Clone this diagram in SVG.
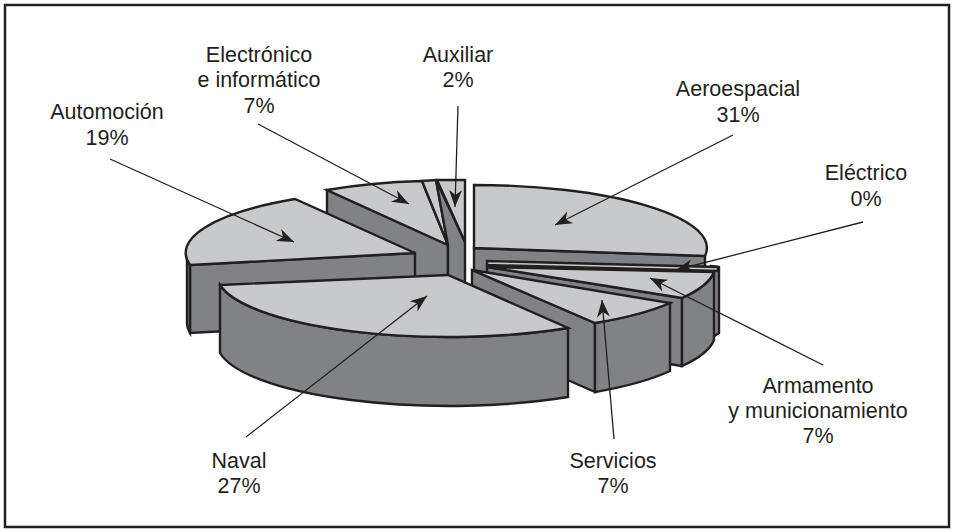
<svg xmlns="http://www.w3.org/2000/svg" width="954" height="532" viewBox="0 0 954 532">
<style>
.lt{fill:#c8c9cb;stroke:#231f20;stroke-width:2.4;stroke-linejoin:miter}
.dk{fill:#808285;stroke:#231f20;stroke-width:2.4;stroke-linejoin:miter}
.ln{fill:none;stroke:#231f20;stroke-width:1.3}
text{font-family:"Liberation Sans",Arial,sans-serif;font-size:21.5px;fill:#231f20;text-anchor:middle}
</style>
<defs>
<marker id="ah" markerUnits="userSpaceOnUse" markerWidth="20" markerHeight="14" viewBox="-18 -7 20 14" refX="0" refY="0" orient="auto">
<path d="M0,0 L-17,-6.5 L-12,0 L-17,6.5 Z" fill="#231f20"/>
</marker>
</defs>
<rect x="5" y="5" width="944" height="522" fill="#ffffff" stroke="#231f20" stroke-width="2.5"/>

<g id="aeroespacial">
<path class="dk" d="M474,248 L705,256 L705,324 L474,316 Z"/>
<path class="lt" d="M474,248 L474,185 A232 63 0 0 1 705 256 Z"/>
</g>
<g id="electrico">
<path class="dk" d="M711,266 L719,267 L719,333 L711,338 Z"/>
<path class="lt" d="M487,261 L718,267 L718,271 L487,265 Z"/>
</g>
<g id="armamento">
<path class="dk" d="M487,267 L682,298 L682,366 L487,335 Z"/>
<path class="dk" d="M682,298 A228 63 0 0 0 714 272 L714 340 A228 63 0 0 1 682 366 Z"/>
<path class="lt" d="M487,267 L714,272 A228 63 0 0 1 682 298 Z"/>
</g>
<g id="servicios">
<path class="dk" d="M472,270 L595,323 L595,392 L472,338 Z"/>
<path class="dk" d="M595,323 A232 63 0 0 0 670 303 L670 371 A232 63 0 0 1 595 392 Z"/>
<path class="lt" d="M472,270 L670,303 A232 63 0 0 1 595 323 Z"/>
</g>
<g id="electronico">
<path class="dk" d="M327,190 L448,245 L448,313 L327,258 Z"/>
<path class="lt" d="M327,190 A227 64 0 0 1 422 181 L448 245 Z"/>
</g>
<g id="auxiliar">
<path class="lt" d="M422,181 L436,180 L448,245 Z"/>
<path class="dk" d="M436,180 L465,242 L465,292 L448,292 L448,245 Z"/>
<path class="lt" d="M437,180 L465,180 L465,242 Z"/>
</g>
<g id="automocion">
<path class="dk" d="M190,265 L415,253 L415,321 L190,333 Z"/>
<path class="dk" d="M187,253 A228 63 0 0 0 190 265 L190 333 A228 63 0 0 1 187 321 Z"/>
<path class="lt" d="M190,265 L415,253 L295,199 A228 63 0 0 0 190 265 Z"/>
</g>
<g id="naval">
<path class="dk" d="M220,285 A232 63 0 0 0 568 328 L568 397 A232 63 0 0 1 220 353 Z"/>
<path class="lt" d="M220,285 L448,275 L568,328 A232 63 0 0 1 220 285 Z"/>
</g>

<g id="connectors">
<line class="ln" x1="110" y1="159" x2="294" y2="242" marker-end="url(#ah)"/>
<line class="ln" x1="258" y1="124" x2="409" y2="204" marker-end="url(#ah)"/>
<line class="ln" x1="458" y1="106" x2="455" y2="207" marker-end="url(#ah)"/>
<line class="ln" x1="733" y1="135" x2="555" y2="225" marker-end="url(#ah)"/>
<line class="ln" x1="863" y1="222" x2="676" y2="270" marker-end="url(#ah)"/>
<line class="ln" x1="823" y1="365" x2="650" y2="278" marker-end="url(#ah)"/>
<line class="ln" x1="614" y1="439" x2="602" y2="300" marker-end="url(#ah)"/>
<line class="ln" x1="246" y1="437" x2="427" y2="296" marker-end="url(#ah)"/>
</g>

<g id="labels">
<text x="107" y="119">Automoción</text>
<text x="107" y="145">19%</text>
<text x="259" y="62">Electrónico</text>
<text x="259" y="87">e informático</text>
<text x="259" y="113">7%</text>
<text x="458" y="62">Auxiliar</text>
<text x="458" y="87">2%</text>
<text x="738" y="96">Aeroespacial</text>
<text x="738" y="122">31%</text>
<text x="866" y="180">Eléctrico</text>
<text x="866" y="206">0%</text>
<text x="818" y="393">Armamento</text>
<text x="818" y="418">y municionamiento</text>
<text x="818" y="443">7%</text>
<text x="613" y="468">Servicios</text>
<text x="613" y="493">7%</text>
<text x="239" y="468">Naval</text>
<text x="239" y="493">27%</text>
</g>
</svg>
